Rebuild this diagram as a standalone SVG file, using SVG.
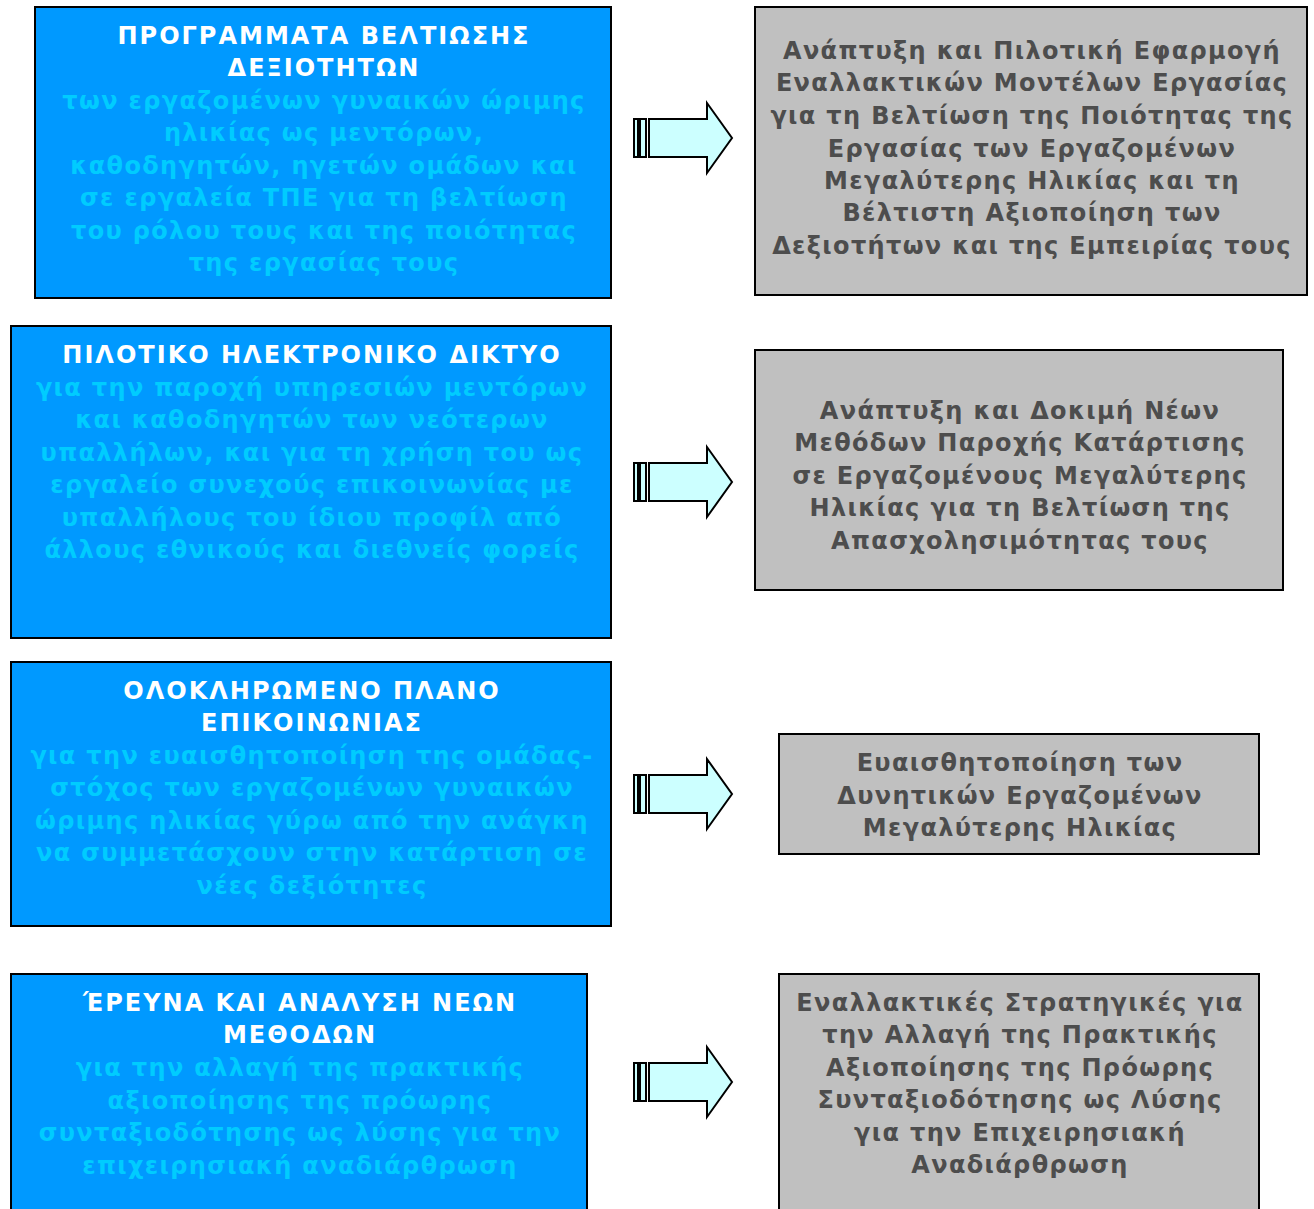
<svg xmlns="http://www.w3.org/2000/svg" width="1314" height="1209" viewBox="0 0 1314 1209">
<defs>
<style>
.blue{fill:#0099FF;stroke:#000;stroke-width:2}
.gray{fill:#C0C0C0;stroke:#000;stroke-width:2}
text{font-family:"DejaVu Sans","Noto Sans",sans-serif;font-weight:bold;font-size:24px;text-anchor:middle;letter-spacing:1.35px}
.h{fill:#FFFFFF;letter-spacing:2px}
.s{fill:#00CCFF}
.g{fill:#4D4D4D}
.arrow{fill:#CCFFFF;stroke:#000;stroke-width:2;stroke-linejoin:miter}
</style>
<g id="arrowShape">
<rect class="arrow" x="-98" y="-19" width="4" height="38"/>
<rect class="arrow" x="-92" y="-19" width="6" height="38"/>
<path class="arrow" d="M-83,-19 H-25 V-35 L0,0 L-25,35 V19 H-83 Z"/>
</g>
</defs>
<rect width="1314" height="1209" fill="#FFFFFF"/>

<g id="node-programs">
<rect class="blue" x="35" y="7" width="576" height="291"/>
<text x="324" y="44" class="h">ΠΡΟΓΡΑΜΜΑΤΑ ΒΕΛΤΙΩΣΗΣ</text>
<text x="324" y="76" class="h">ΔΕΞΙΟΤΗΤΩΝ</text>
<text x="324" y="109" class="s">των εργαζομένων γυναικών ώριμης</text>
<text x="324" y="141" class="s">ηλικίας ως μεντόρων,</text>
<text x="324" y="174" class="s">καθοδηγητών, ηγετών ομάδων και</text>
<text x="324" y="206" class="s">σε εργαλεία ΤΠΕ για τη βελτίωση</text>
<text x="324" y="239" class="s">του ρόλου τους και της ποιότητας</text>
<text x="324" y="271" class="s">της εργασίας τους</text>
</g>

<g id="node-models">
<rect class="gray" x="755" y="7" width="552" height="288"/>
<text x="1032" y="59" class="g">Ανάπτυξη και Πιλοτική Εφαρμογή</text>
<text x="1032" y="91" class="g">Εναλλακτικών Μοντέλων Εργασίας</text>
<text x="1032" y="124" class="g">για τη Βελτίωση της Ποιότητας της</text>
<text x="1032" y="157" class="g">Εργασίας των Εργαζομένων</text>
<text x="1032" y="189" class="g">Μεγαλύτερης Ηλικίας και τη</text>
<text x="1032" y="221" class="g">Βέλτιστη Αξιοποίηση των</text>
<text x="1032" y="254" class="g">Δεξιοτήτων και της Εμπειρίας τους</text>
</g>

<g id="node-network">
<rect class="blue" x="11" y="326" width="600" height="312"/>
<text x="312" y="363" class="h">ΠΙΛΟΤΙΚΟ ΗΛΕΚΤΡΟΝΙΚΟ ΔΙΚΤΥΟ</text>
<text x="312" y="396" class="s">για την παροχή υπηρεσιών μεντόρων</text>
<text x="312" y="428" class="s">και καθοδηγητών των νεότερων</text>
<text x="312" y="461" class="s">υπαλλήλων, και για τη χρήση του ως</text>
<text x="312" y="493" class="s">εργαλείο συνεχούς επικοινωνίας με</text>
<text x="312" y="526" class="s">υπαλλήλους του ίδιου προφίλ από</text>
<text x="312" y="558" class="s">άλλους εθνικούς και διεθνείς φορείς</text>
</g>

<g id="node-training">
<rect class="gray" x="755" y="350" width="528" height="240"/>
<text x="1020" y="419" class="g">Ανάπτυξη και Δοκιμή Νέων</text>
<text x="1020" y="451" class="g">Μεθόδων Παροχής Κατάρτισης</text>
<text x="1020" y="484" class="g">σε Εργαζομένους Μεγαλύτερης</text>
<text x="1020" y="516" class="g">Ηλικίας για τη Βελτίωση της</text>
<text x="1020" y="549" class="g">Απασχολησιμότητας τους</text>
</g>

<g id="node-communication">
<rect class="blue" x="11" y="662" width="600" height="264"/>
<text x="312" y="699" class="h">ΟΛΟΚΛΗΡΩΜΕΝΟ ΠΛΑΝΟ</text>
<text x="312" y="731" class="h">ΕΠΙΚΟΙΝΩΝΙΑΣ</text>
<text x="312" y="764" class="s">για την ευαισθητοποίηση της ομάδας-</text>
<text x="312" y="796" class="s">στόχος των εργαζομένων γυναικών</text>
<text x="312" y="829" class="s">ώριμης ηλικίας γύρω από την ανάγκη</text>
<text x="312" y="861" class="s">να συμμετάσχουν στην κατάρτιση σε</text>
<text x="312" y="894" class="s">νέες δεξιότητες</text>
</g>

<g id="node-awareness">
<rect class="gray" x="779" y="734" width="480" height="120"/>
<text x="1020" y="771" class="g">Ευαισθητοποίηση των</text>
<text x="1020" y="804" class="g">Δυνητικών Εργαζομένων</text>
<text x="1020" y="836" class="g">Μεγαλύτερης Ηλικίας</text>
</g>

<g id="node-research">
<rect class="blue" x="11" y="974" width="576" height="250"/>
<text x="300" y="1011" class="h">ΈΡΕΥΝΑ ΚΑΙ ΑΝΑΛΥΣΗ ΝΕΩΝ</text>
<text x="300" y="1043" class="h">ΜΕΘΟΔΩΝ</text>
<text x="300" y="1076" class="s">για την αλλαγή της πρακτικής</text>
<text x="300" y="1109" class="s">αξιοποίησης της πρόωρης</text>
<text x="300" y="1141" class="s">συνταξιοδότησης ως λύσης για την</text>
<text x="300" y="1174" class="s">επιχειρησιακή αναδιάρθρωση</text>
</g>

<g id="node-strategies">
<rect class="gray" x="779" y="974" width="480" height="250"/>
<text x="1020" y="1011" class="g">Εναλλακτικές Στρατηγικές για</text>
<text x="1020" y="1043" class="g">την Αλλαγή της Πρακτικής</text>
<text x="1020" y="1076" class="g">Αξιοποίησης της Πρόωρης</text>
<text x="1020" y="1108" class="g">Συνταξιοδότησης ως Λύσης</text>
<text x="1020" y="1141" class="g">για την Επιχειρησιακή</text>
<text x="1020" y="1173" class="g">Αναδιάρθρωση</text>
</g>

<g id="connectors">
<use href="#arrowShape" transform="translate(732,138)"/>
<use href="#arrowShape" transform="translate(732,482)"/>
<use href="#arrowShape" transform="translate(732,794)"/>
<use href="#arrowShape" transform="translate(732,1082)"/>
</g>
</svg>
